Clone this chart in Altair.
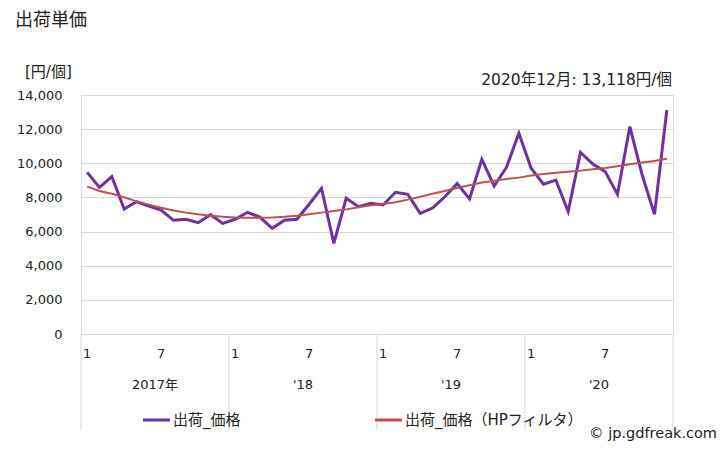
import altair as alt
import pandas as pd

# ---- data ----
months = list(range(48))  # Jan 2017 .. Dec 2020
price = [9470, 8590, 9220, 7320, 7750, 7500, 7260, 6660, 6720, 6520, 6990, 6480,
         6720, 7130, 6850, 6190, 6660, 6720, 7600, 8530, 5310, 7950, 7460, 7660,
         7560, 8300, 8180, 7070, 7380, 8040, 8810, 7910, 10230, 8670, 9760, 11760,
         9710, 8770, 9020, 7170, 10640, 9960, 9510, 8180, 12150, 9310, 7010, 13118]
hp = [8630, 8380, 8220, 8010, 7770, 7580, 7400, 7240, 7110, 7010, 6930, 6870,
      6830, 6810, 6810, 6830, 6870, 6930, 7010, 7110, 7200, 7300, 7420, 7540,
      7620, 7720, 7870, 8040, 8220, 8380, 8550, 8710, 8870, 8980, 9080, 9160,
      9280, 9370, 9450, 9510, 9570, 9650, 9720, 9820, 9940, 10040, 10130, 10270]
month_ticks = ["1", "7"] * 4
month_tick_pos = [0, 6, 12, 18, 24, 30, 36, 42]
year_labels = ["2017年", "'18", "'19", "'20"]
year_pos = [6, 18, 30, 42]
year_bounds = [0, 12, 24, 36, 48]
y_ticks = [0, 2000, 4000, 6000, 8000, 10000, 12000, 14000]

W, H = 592, 239
FONT = "DejaVu Sans, Noto Sans CJK JP"
PURPLE = "#7030a0"
RED = "#c0504d"
TXT = "#222"

df = pd.DataFrame({"m": [m + 0.5 for m in months], "price": price, "hp": hp})
xs = alt.Scale(domain=[0, 48], nice=False, zero=False)
ys = alt.Scale(domain=[0, 14000], nice=False)
yaxis = alt.Axis(values=y_ticks, format=",d", title=None, domain=False,
                 ticks=False, labelPadding=19, gridColor="#d9d9d9",
                 labelOverlap=False, labelFont=FONT, labelFontSize=13,
                 labelColor=TXT)

base = alt.Chart(df)

price_line = base.mark_line(color=PURPLE, strokeWidth=3).encode(
    x=alt.X("m:Q", scale=xs, axis=None),
    y=alt.Y("price:Q", scale=ys, axis=yaxis),
)
hp_line = base.mark_line(color=RED, strokeWidth=2).encode(
    x=alt.X("m:Q", scale=xs, axis=None),
    y=alt.Y("hp:Q", scale=ys, axis=yaxis),
)

dividers = alt.Chart(pd.DataFrame({"b": year_bounds})).mark_rule(
    color="#d9d9d9", strokeWidth=1).encode(
    x=alt.X("b:Q", scale=xs, axis=None), y=alt.value(H), y2=alt.value(H + 96))

mdf = pd.DataFrame({"p": [p + 0.5 for p in month_tick_pos], "t": month_ticks})
mlabels = alt.Chart(mdf).mark_text(font=FONT, fontSize=13, color=TXT).encode(
    x=alt.X("p:Q", scale=xs, axis=None), y=alt.value(H + 20), text="t:N")

ydf = pd.DataFrame({"p": year_pos, "t": year_labels})
ylabels = alt.Chart(ydf).mark_text(font=FONT, fontSize=13, color=TXT).encode(
    x=alt.X("p:Q", scale=xs, axis=None), y=alt.value(H + 51), text="t:N")


def label(text, x, y, size, align="left", color=TXT):
    return alt.Chart(pd.DataFrame({"t": [text]})).mark_text(
        font=FONT, fontSize=size, align=align, baseline="middle", color=color).encode(
        x=alt.value(x), y=alt.value(y), text="t:N")


def swatch(x1, x2, y, color):
    return alt.Chart(pd.DataFrame({"a": [0]})).mark_rule(
        color=color, strokeWidth=3).encode(x=alt.value(x1), x2=alt.value(x2), y=alt.value(y))


texts = [
    label("出荷単価", -66, -74, 18),
    label("[円/個]", -56, -23, 15),
    label("2020年12月: 13,118円/個", 591, -15, 15.5, align="right"),
    swatch(62, 89, 325, PURPLE),
    label("出荷_価格", 92, 325, 15),
    swatch(294, 321, 325, RED),
    label("出荷_価格（HPフィルタ）", 324, 325, 15),
    label("© jp.gdfreak.com", 636, 339, 14.5, align="right"),
]

chart = alt.layer(price_line, hp_line, dividers, mlabels, ylabels, *texts).properties(
    width=W, height=H,
    autosize=alt.AutoSizeParams(type="none"),
    padding={"left": 73, "top": 87, "right": 47, "bottom": 108},
).configure_view(stroke=None).configure(background="white")

chart.save("out.html", embed_options={"renderer": "svg", "actions": False})
